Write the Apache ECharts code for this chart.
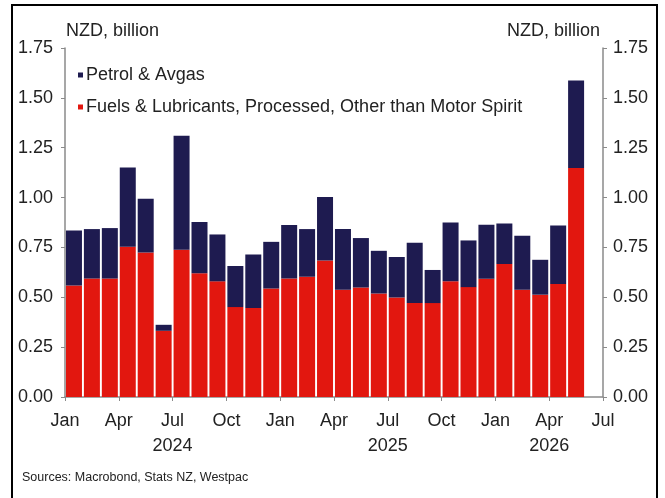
<!DOCTYPE html>
<html>
<head>
<meta charset="utf-8">
<script src="https://cdn.jsdelivr.net/npm/echarts@6/dist/echarts.min.js"></script>
<style>
  html, body { margin: 0; padding: 0; background: #fff; }
  #chart { width: 665px; height: 498px; }
</style>
</head>
<body>
<div id="chart"></div>
<script>
// Monthly imports, NZD billion, Jan 2024 – May 2026 (Jun 2026 slot left empty)
const months = [
  '2024-01','2024-02','2024-03','2024-04','2024-05','2024-06',
  '2024-07','2024-08','2024-09','2024-10','2024-11','2024-12',
  '2025-01','2025-02','2025-03','2025-04','2025-05','2025-06',
  '2025-07','2025-08','2025-09','2025-10','2025-11','2025-12',
  '2026-01','2026-02','2026-03','2026-04','2026-05','2026-06'
];
const fuels = [
  0.559, 0.594, 0.594, 0.753, 0.725, 0.332,
  0.738, 0.620, 0.580, 0.451, 0.446, 0.544,
  0.594, 0.603, 0.685, 0.538, 0.549, 0.519,
  0.499, 0.471, 0.471, 0.580, 0.551, 0.593,
  0.667, 0.538, 0.513, 0.566, 1.148
];
const petrol = [
  0.276, 0.248, 0.253, 0.398, 0.269, 0.030,
  0.572, 0.257, 0.235, 0.206, 0.269, 0.234,
  0.268, 0.239, 0.318, 0.304, 0.248, 0.214,
  0.203, 0.302, 0.166, 0.295, 0.234, 0.271,
  0.203, 0.271, 0.175, 0.294, 0.439
];
// Quarter tick labels at month boundaries (0 = start of Jan 2024)
const quarterLabels = ['Jan','Apr','Jul','Oct','Jan','Apr','Jul','Oct','Jan','Apr','Jul'];
const yearLabels = { 6: '2024', 18: '2025', 27: '2026' };
const seriesNames = ['Petrol & Avgas', 'Fuels & Lubricants, Processed, Other than Motor Spirit'];

const FONT = "'Liberation Sans', Arial, Helvetica, sans-serif";
const TEXT = '#222';
const AXIS = '#8a8a8a';
const NAVY = '#1e1b50';
const RED = '#e2170f';

const chart = echarts.init(document.getElementById('chart'), null, { renderer: 'canvas' });

const yAxisBase = {
  type: 'value', min: 0, max: 1.75, interval: 0.25,
  splitLine: { show: false },
  axisLine: { show: true, lineStyle: { color: AXIS, width: 1.5 } },
  axisTick: { show: true, length: 4, lineStyle: { color: AXIS } },
  axisLabel: {
    color: TEXT, fontFamily: FONT, fontSize: 18,
    formatter: v => v.toFixed(2)
  }
};

chart.setOption({
  animation: false,
  backgroundColor: '#fff',
  grid: { left: 65, right: 62, top: 48, bottom: 101, containLabel: false },
  xAxis: [
    {
      // month slots for the bars
      type: 'category', data: months, boundaryGap: true,
      axisLine: { show: false }, axisTick: { show: false }, axisLabel: { show: false },
      splitLine: { show: false }
    },
    {
      // quarter ticks and labels at month boundaries
      type: 'value', min: 0, max: 30, interval: 3, position: 'bottom',
      splitLine: { show: false },
      axisLine: { show: true, onZero: false, lineStyle: { color: AXIS, width: 1.5 } },
      axisTick: { show: true, length: 4, lineStyle: { color: AXIS } },
      axisLabel: {
        color: TEXT, fontFamily: FONT, fontSize: 18, lineHeight: 25, margin: 12,
        showMinLabel: true, showMaxLabel: true,
        formatter: v => {
          const q = quarterLabels[Math.round(v / 3)] || '';
          const y = yearLabels[Math.round(v)];
          return y ? q + '\n' + y : q;
        }
      }
    }
  ],
  yAxis: [
    Object.assign({}, yAxisBase, { position: 'left', axisLabel: Object.assign({}, yAxisBase.axisLabel, { margin: 12 }) }),
    Object.assign({}, yAxisBase, { position: 'right', axisLabel: Object.assign({}, yAxisBase.axisLabel, { margin: 10 }) })
  ],
  legend: {
    orient: 'vertical', left: 73, top: 61,
    itemWidth: 5, itemHeight: 5, itemGap: 14,
    icon: 'rect',
    data: seriesNames.slice(),
    textStyle: { color: TEXT, fontFamily: FONT, fontSize: 18, lineHeight: 18, padding: [0, 0, 0, -2] }
  },
  series: [
    {
      name: seriesNames[1], type: 'bar', stack: 'total', barWidth: 16,
      xAxisIndex: 0, yAxisIndex: 0,
      itemStyle: { color: RED },
      data: fuels
    },
    {
      name: seriesNames[0], type: 'bar', stack: 'total', barWidth: 16,
      xAxisIndex: 0, yAxisIndex: 0,
      itemStyle: { color: NAVY },
      data: petrol
    }
  ],
  graphic: [
    { type: 'rect', shape: { x: 12, y: 5, width: 645, height: 520 },
      style: { fill: 'none', stroke: '#000', lineWidth: 2 }, silent: true },
    { type: 'text', left: 66, top: 22,
      style: { text: 'NZD, billion', fill: TEXT, font: '18px ' + FONT } },
    { type: 'text', right: 65, top: 22,
      style: { text: 'NZD, billion', fill: TEXT, font: '18px ' + FONT, textAlign: 'right' } },
    { type: 'text', left: 22, top: 471,
      style: { text: 'Sources: Macrobond, Stats NZ, Westpac', fill: TEXT, font: '12.5px ' + FONT } }
  ]
});
</script>
</body>
</html>
